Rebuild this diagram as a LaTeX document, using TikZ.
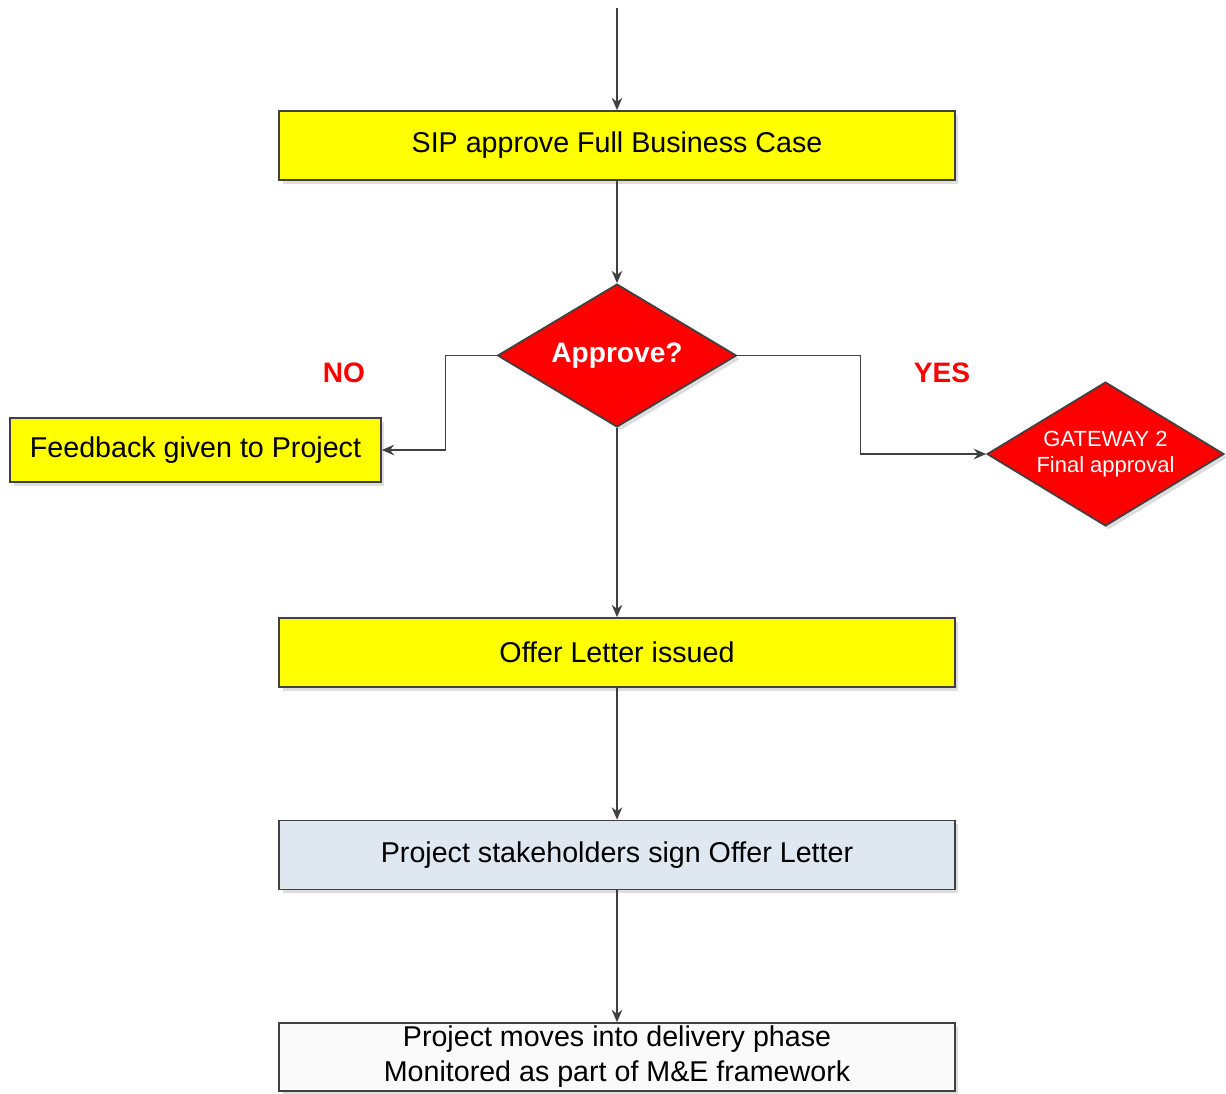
\documentclass[tikz,border=0pt]{standalone}
\usepackage{fontspec}
\setmainfont{Liberation Sans}
\usetikzlibrary{shapes.geometric,arrows.meta,shadows}
\definecolor{boxyellow}{HTML}{FFFF00}
\definecolor{boxred}{HTML}{FF0000}
\definecolor{boxblue}{HTML}{DFE8F1}
\definecolor{edgegray}{HTML}{404040}
\begin{document}
\begin{tikzpicture}[x=0.02cm,y=-0.02cm,
    >={Stealth[length=7pt,width=6pt]},
    shade/.style={drop shadow={shadow xshift=2pt,shadow yshift=-2pt,fill=gray!45,opacity=0.6}},
    stepbox/.style={draw=edgegray,line width=1pt,shade,rectangle,minimum width=13.52cm,
      minimum height=1.38cm,inner sep=0pt,font=\fontsize{16.3}{20}\selectfont},
    decision/.style={draw=edgegray,line width=1pt,shade,diamond,aspect=1.67,fill=boxred,
      inner sep=0pt,text=white,align=center},
    flow/.style={draw=edgegray,line width=0.9pt,->},
    answer/.style={text=boxred,font=\fontsize{16}{19}\selectfont\bfseries}]
  % Frame
  \useasboundingbox (0,0) rectangle (1226,1093);
  %
  % Boxes
  \coordinate (start) at (617,8);
  \node[stepbox,fill=boxyellow] (fbc) at (617,145.5) {SIP approve Full Business Case};
  \node[decision,minimum width=4.78cm,minimum height=2.86cm,
    font=\fontsize{16}{19}\selectfont\bfseries] (ask) at (617,355.5) {Approve?};
  \node[stepbox,fill=boxyellow,minimum width=7.42cm,minimum height=1.28cm] (feedback)
    at (195.5,450) {Feedback given to Project};
  \node[decision,minimum width=4.74cm,minimum height=2.88cm,
    font=\fontsize{12.5}{15}\selectfont] (gate) at (1105.5,454) {GATEWAY 2\\Final approval};
  \node[stepbox,fill=boxyellow] (offer) at (617,652.5) {Offer Letter issued};
  \node[stepbox,fill=boxblue] (sign) at (617,855) {Project stakeholders sign Offer Letter};
  \node[stepbox,fill=gray!4,minimum height=1.36cm,align=center] (deliver) at (617,1057)
    {Project moves into delivery phase\\Monitored as part of M\&E framework};
  %
  % Answers
  \node[answer] (no) at (344,373) {NO};
  \node[answer] (yes) at (942,373) {YES};
  %
  % Connectors
  \draw[flow] (start) -- (fbc);
  \draw[flow] (fbc) -- (ask);
  \draw[flow] (ask.west) -- ++(-51,0) |- (feedback.east);
  \draw[flow] (ask.east) -- ++(123,0) |- (gate.west);
  \draw[flow] (ask) -- (offer);
  \draw[flow] (offer) -- (sign);
  \draw[flow] (sign) -- (deliver);
\end{tikzpicture}
\end{document}
